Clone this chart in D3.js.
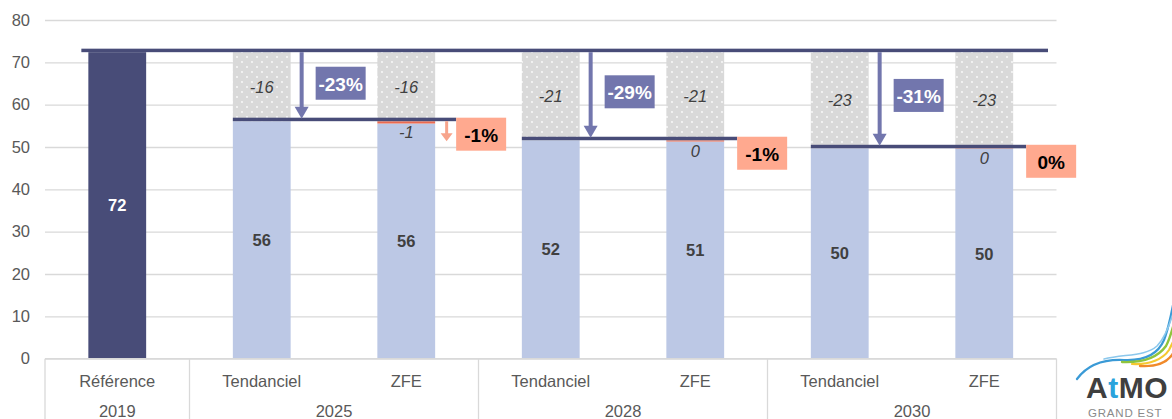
<!DOCTYPE html>
<html>
<head>
<meta charset="utf-8">
<script src="https://cdn.jsdelivr.net/npm/d3@7"></script>
<style>
  html, body { margin: 0; padding: 0; background: #fff; }
  svg { display: block; font-family: "Liberation Sans", Arial, sans-serif; }
</style>
</head>
<body>
<svg id="chart" width="1172" height="419"></svg>
<script>
// ---- data -------------------------------------------------------------
const years = ["2019", "2025", "2028", "2030"];
const scenarios = ["Tendanciel", "ZFE"];
const referenceLabel = "Référence";
const referenceValue = 72.4;            // 2019 reference
const tendanciel = [56.1, 51.6, 49.7];  // 2025, 2028, 2030
const zfe = [55.55, 51.3, 49.6];        // 2025, 2028, 2030
const yTicks = [0, 10, 20, 30, 40, 50, 60, 70, 80];

// ---- styling ----------------------------------------------------------
const C = {
  dark: "#484c78",
  light: "#bcc8e5",
  gray: "#d9d9d9",
  grid: "#d9d9d9",
  arrow: "#7276ad",
  salmonBox: "#ffa98f",
  salmonArrow: "#f7a48c",
  salmonSeg: "#ec6a50",
  text: "#404040",
  axisText: "#595959"
};

const svg = d3.select("#chart");
const plot = { left: 45, right: 1056.5, top: 20, bottom: 358.7 };

// category list: reference bar, then Tendanciel/ZFE per scenario year
const cats = [{ year: years[0], name: referenceLabel }];
years.slice(1).forEach((yr, i) => scenarios.forEach(s => cats.push({ year: yr, name: s, idx: i })));

const x = d3.scaleBand()
  .domain(d3.range(cats.length))
  .range([plot.left, plot.right])
  .paddingInner(0.6)
  .paddingOuter(0.3);
const y = d3.scaleLinear().domain([0, 80]).range([plot.bottom, plot.top]);
const bw = x.bandwidth();
const step = x.step();

// dotted fill for the reduction part of the bars
const defs = svg.append("defs");
const pat = defs.append("pattern")
  .attr("id", "dots").attr("patternUnits", "userSpaceOnUse")
  .attr("width", 10).attr("height", 10);
pat.append("rect").attr("width", 10).attr("height", 10).attr("fill", C.gray);
pat.append("circle").attr("cx", 2).attr("cy", 2).attr("r", 0.9).attr("fill", "#fff").attr("opacity", 0.9);
pat.append("circle").attr("cx", 7).attr("cy", 7).attr("r", 0.9).attr("fill", "#fff").attr("opacity", 0.9);

// ---- grid + value axis ------------------------------------------------
const yAxis = svg.append("g")
  .attr("transform", `translate(${plot.left},0)`)
  .call(d3.axisLeft(y).tickValues(yTicks).tickSize(-(plot.right - plot.left)).tickPadding(15));
yAxis.select(".domain").remove();
yAxis.selectAll(".tick line").attr("stroke", C.grid).attr("stroke-width", 1.3);
yAxis.selectAll(".tick text")
  .attr("fill", C.axisText).attr("font-size", 16.5)
  .attr("font-family", "'Liberation Sans', Arial, sans-serif");

// ---- bars -------------------------------------------------------------
const fmt = v => { const r = Math.round(v); return String(r === 0 ? 0 : r); };
const bars = svg.append("g");
const labels = svg.append("g");

// reference bar
bars.append("rect")
  .attr("x", x(0)).attr("width", bw)
  .attr("y", y(referenceValue)).attr("height", y(0) - y(referenceValue))
  .attr("fill", C.dark);
labels.append("text")
  .attr("x", x(0) + bw / 2).attr("y", (y(referenceValue) + y(0)) / 2)
  .attr("text-anchor", "middle").attr("dominant-baseline", "central")
  .attr("font-size", 16.5).attr("font-weight", "bold").attr("fill", "#fff")
  .text(fmt(referenceValue));

const groups = tendanciel.map((t, i) => ({ i, t, z: zfe[i], ti: 1 + 2 * i, zi: 2 + 2 * i }));

groups.forEach(g => {
  // Tendanciel
  const tx = x(g.ti);
  bars.append("rect").attr("x", tx).attr("width", bw)
    .attr("y", y(g.t)).attr("height", y(0) - y(g.t)).attr("fill", C.light);
  bars.append("rect").attr("x", tx).attr("width", bw)
    .attr("y", y(referenceValue)).attr("height", y(g.t) - y(referenceValue)).attr("fill", "url(#dots)");
  labels.append("text")
    .attr("x", tx + bw / 2).attr("y", (y(g.t) + y(0)) / 2)
    .attr("text-anchor", "middle").attr("dominant-baseline", "central")
    .attr("font-size", 16.5).attr("font-weight", "bold").attr("fill", C.text)
    .text(fmt(g.t));
  labels.append("text")
    .attr("x", tx + bw / 2).attr("y", (y(g.t) + y(referenceValue)) / 2)
    .attr("text-anchor", "middle").attr("dominant-baseline", "central")
    .attr("font-size", 16.5).attr("font-style", "italic").attr("fill", C.text)
    .text(fmt(g.t - referenceValue));

  // ZFE
  const zx = x(g.zi);
  bars.append("rect").attr("x", zx).attr("width", bw)
    .attr("y", y(g.z)).attr("height", y(0) - y(g.z)).attr("fill", C.light);
  bars.append("rect").attr("x", zx).attr("width", bw)
    .attr("y", y(g.t)).attr("height", y(g.z) - y(g.t)).attr("fill", C.salmonSeg);
  bars.append("rect").attr("x", zx).attr("width", bw)
    .attr("y", y(referenceValue)).attr("height", y(g.t) - y(referenceValue)).attr("fill", "url(#dots)");
  labels.append("text")
    .attr("x", zx + bw / 2).attr("y", (y(g.z) + y(0)) / 2)
    .attr("text-anchor", "middle").attr("dominant-baseline", "central")
    .attr("font-size", 16.5).attr("font-weight", "bold").attr("fill", C.text)
    .text(fmt(g.z));
  labels.append("text")
    .attr("x", zx + bw / 2).attr("y", (y(g.t) + y(referenceValue)) / 2)
    .attr("text-anchor", "middle").attr("dominant-baseline", "central")
    .attr("font-size", 16.5).attr("font-style", "italic").attr("fill", C.text)
    .text(fmt(g.t - referenceValue));
  labels.append("text")
    .attr("x", zx + bw / 2).attr("y", (y(g.t) + y(g.z)) / 2 + 10)
    .attr("text-anchor", "middle").attr("dominant-baseline", "central")
    .attr("font-size", 16.5).attr("font-style", "italic").attr("fill", C.text)
    .text(fmt(g.z - g.t));
});

// ---- reduction annotations -------------------------------------------
const ann = svg.append("g");
const lineW = 3.5;

// reference level line across the chart
ann.append("rect")
  .attr("x", x(0) - 7).attr("width", (plot.right - 8.5) - (x(0) - 7))
  .attr("y", y(referenceValue) - lineW).attr("height", lineW)
  .attr("fill", C.dark);

function arrowDown(g, ax, y0, y1, shaft, headW, headH, color) {
  g.append("rect").attr("x", ax - shaft / 2).attr("width", shaft)
    .attr("y", y0).attr("height", Math.max(0, y1 - headH - y0 + 1)).attr("fill", color);
  g.append("path")
    .attr("d", `M${ax - headW / 2},${y1 - headH} L${ax + headW / 2},${y1 - headH} L${ax},${y1} Z`)
    .attr("fill", color);
}

groups.forEach(g => {
  const tx = x(g.ti), zx = x(g.zi);
  const diffShown = Math.round(g.z - g.t) !== 0;
  const boxLeft = zx + bw + (diffShown ? 21 : 13);
  const yRefB = y(referenceValue);
  const yT = y(g.t);

  // scenario level line
  ann.append("rect")
    .attr("x", tx).attr("width", boxLeft - tx)
    .attr("y", yT - lineW).attr("height", lineW).attr("fill", C.dark);

  // downward arrow from the reference level
  const ax = tx + bw + 11;
  arrowDown(ann, ax, yRefB, yT - lineW + 1, 4, 14, 12, C.arrow);

  // Tendanciel change vs reference
  const pctT = Math.round((g.t - referenceValue) / referenceValue * 100);
  const bh = 33, bwBox = 50;
  const cy = yRefB + 0.45 * (yT - yRefB);
  ann.append("rect").attr("x", ax + 14).attr("y", cy - bh / 2)
    .attr("width", bwBox).attr("height", bh).attr("fill", C.arrow);
  ann.append("text")
    .attr("x", ax + 14 + bwBox / 2).attr("y", cy + 1)
    .attr("text-anchor", "middle").attr("dominant-baseline", "central")
    .attr("font-size", 19).attr("font-weight", "bold").attr("fill", "#fff")
    .text(`${pctT}%`);

  // ZFE change vs Tendanciel
  if (diffShown) {
    arrowDown(ann, zx + bw + 11.5, yT, yT + 20, 3, 12, 8, C.salmonArrow);
  }
  const pctZ = Math.round((g.z - g.t) / g.t * 100);
  ann.append("rect").attr("x", boxLeft).attr("y", yT - lineW)
    .attr("width", bwBox).attr("height", bh).attr("fill", C.salmonBox);
  ann.append("text")
    .attr("x", boxLeft + bwBox / 2).attr("y", yT - lineW + bh / 2 + 1)
    .attr("text-anchor", "middle").attr("dominant-baseline", "central")
    .attr("font-size", 19).attr("font-weight", "bold").attr("fill", "#000")
    .text(`${pctZ === 0 ? 0 : pctZ}%`);
});

// ---- category axis (two levels) --------------------------------------
const cax = svg.append("g");
const gap = (step - bw) / 2;
const bound = i => (i >= cats.length ? plot.right : x(i) - gap);
cax.append("line")
  .attr("x1", plot.left).attr("x2", plot.right)
  .attr("y1", plot.bottom).attr("y2", plot.bottom)
  .attr("stroke", C.grid).attr("stroke-width", 1.3);

const yearSpans = years.map((yr, k) => k === 0 ? [0, 1] : [1 + 2 * (k - 1), 3 + 2 * (k - 1)]);
const seps = [0, ...yearSpans.map(s => s[1])];
seps.forEach(i => {
  cax.append("line")
    .attr("x1", bound(i)).attr("x2", bound(i))
    .attr("y1", plot.bottom).attr("y2", 419)
    .attr("stroke", C.grid).attr("stroke-width", 1.3);
});
cats.forEach((c, i) => {
  cax.append("text")
    .attr("x", x(i) + bw / 2).attr("y", 381)
    .attr("text-anchor", "middle").attr("dominant-baseline", "central")
    .attr("font-size", 16.5).attr("fill", C.axisText)
    .text(c.name);
});
yearSpans.forEach((s, k) => {
  cax.append("text")
    .attr("x", (bound(s[0]) + bound(s[1])) / 2).attr("y", 411)
    .attr("text-anchor", "middle").attr("dominant-baseline", "central")
    .attr("font-size", 16.5).attr("fill", C.axisText)
    .text(years[k]);
});

// ---- logo ------------------------------------------------------------
const logo = svg.append("g").attr("fill", "none").attr("stroke-linecap", "round");
logo.append("path").attr("d", "M1077,379 C1088,364 1104,359 1124,360 C1146,361 1158,354 1164,340 C1168,330 1171,316 1174,300")
  .attr("stroke", "#3a9ad6").attr("stroke-width", 2.2);
logo.append("path").attr("d", "M1104,359 C1126,354 1146,356 1157,346 C1165,338 1170,324 1174,310")
  .attr("stroke", "#8cc8ec").attr("stroke-width", 1.6);
logo.append("path").attr("d", "M1122,362 C1144,363 1158,357 1166,346 C1170,339 1172,330 1175,320")
  .attr("stroke", "#8fc43d").attr("stroke-width", 2.4);
logo.append("path").attr("d", "M1132,364 C1150,365 1163,359 1169,350 L1175,338")
  .attr("stroke", "#f5c830").attr("stroke-width", 2.2);
logo.append("path").attr("d", "M1140,366 C1156,367 1166,363 1172,355 L1176,349")
  .attr("stroke", "#f08a2a").attr("stroke-width", 2.4);

const brand = svg.append("text")
  .attr("x", 1086).attr("y", 398)
  .attr("font-size", 30).attr("font-weight", "bold").attr("letter-spacing", 0.5);
brand.append("tspan").attr("fill", "#3f3f3f").text("A");
brand.append("tspan").attr("fill", "#2aa3dc").text("t");
brand.append("tspan").attr("fill", "#3f3f3f").text("MO");
svg.append("text")
  .attr("x", 1088).attr("y", 416.5)
  .attr("font-size", 11.5).attr("fill", "#8a8a8a").attr("letter-spacing", 0.8)
  .text("GRAND EST");
</script>
</body>
</html>
